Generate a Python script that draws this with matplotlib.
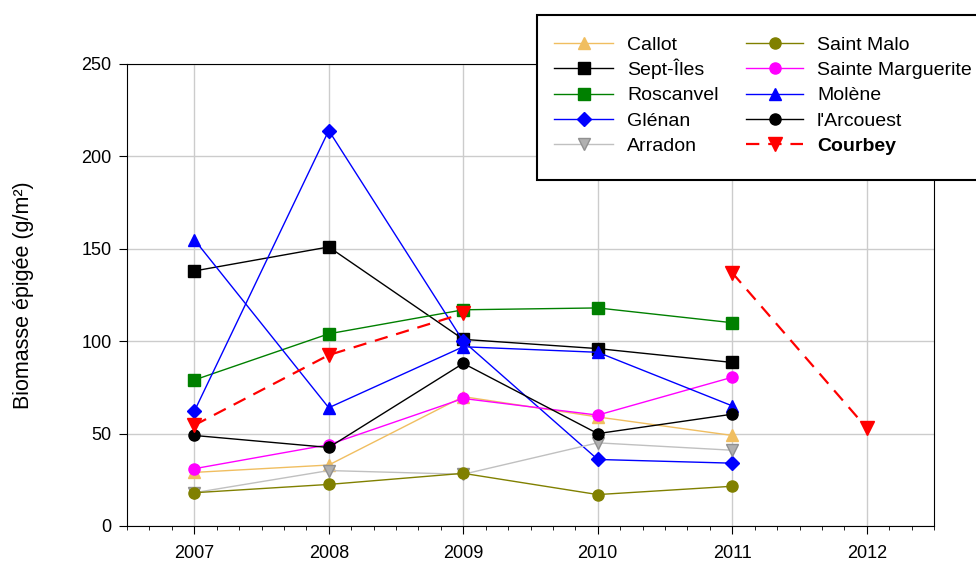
import numpy as np
import matplotlib
matplotlib.use('Agg')
import matplotlib.pyplot as plt
from matplotlib.lines import Line2D
from matplotlib.patches import Rectangle
from matplotlib.ticker import MultipleLocator

plt.rcParams['font.family'] = ['Liberation Sans', 'DejaVu Sans']

years = [2007, 2008, 2009, 2010, 2011, 2012]
nan = np.nan

# biomasse par site (g/m²)
callot = [29, 33, 70, 59, 49, nan]
sept_iles = [138, 151, 101, 96, 88.5, nan]
roscanvel = [79, 104, 117, 118, 110, nan]
glenan = [62, 214, 100, 36, 34, nan]
arradon = [18, 30, 28, 45, 41, nan]
saint_malo = [18, 22.5, 28.5, 17, 21.5, nan]
sainte_marguerite = [31, 44, 69, 60, 80.5, nan]
molene = [155, 64, 97, 94, 65, nan]
arcouest = [49, 42.5, 88, 50, 60.5, nan]
courbey = [54.5, 92.5, 115, nan, 137, 53]

series = [
    ('Callot', callot, dict(color='#F0BE60', marker='^')),
    ('Sept-Îles', sept_iles, dict(color='black', marker='s')),
    ('Roscanvel', roscanvel, dict(color='#008000', marker='s')),
    ('Glénan', glenan, dict(color='#0000FF', marker='D', markersize=7)),
    ('Arradon', arradon, dict(color='#C0C0C0', marker='v', markerfacecolor='#B0B0B0',
                              markeredgecolor='#909090')),
    ('Saint Malo', saint_malo, dict(color='#808000', marker='o')),
    ('Sainte Marguerite', sainte_marguerite, dict(color='#FF00FF', marker='o')),
    ('Molène', molene, dict(color='#0000FF', marker='^')),
    ("l'Arcouest", arcouest, dict(color='black', marker='o')),
    ('Courbey', courbey, dict(color='#FF0000', marker='v', linestyle=(0, (6, 4)),
                              linewidth=1.6, markersize=10)),
]

W, H = 976, 565
fig = plt.figure(figsize=(W / 100, H / 100), dpi=100)
ax = fig.add_axes([127 / W, 1 - 526 / H, 807 / W, 462 / H])

styles = []
for name, vals, style in series:
    kw = dict(linewidth=1.0, markersize=8)
    kw.update(style)
    ax.plot(years, vals, label=name, **kw)
    styles.append((name, kw))

ax.set_xlim(2006.5, 2012.5)
ax.set_ylim(0, 250)
ax.set_xticks(years)
ax.set_yticks([0, 50, 100, 150, 200, 250])
ax.xaxis.set_minor_locator(MultipleLocator(1 / 6))
ax.tick_params(axis='both', which='major', direction='out', length=6, labelsize=13)
ax.tick_params(axis='y', pad=5)
ax.tick_params(axis='x', pad=8)
ax.tick_params(axis='x', which='minor', direction='out', length=3)
ax.grid(True, which='major', color='#CCCCCC', linewidth=1.0)
ax.set_axisbelow(True)

ax.set_ylabel('Biomasse épigée (g/m²)', fontsize=15.5, labelpad=34)

# legende dessinee a la main (coordonnees en pixels de la figure)
def fx(px):
    return px / W

def fy(py):
    return 1 - py / H

fig.add_artist(Rectangle((fx(537), fy(180)), fx(1000) - fx(537), fy(15) - fy(180),
                         transform=fig.transFigure, facecolor='white',
                         edgecolor='black', linewidth=1.5, zorder=10))
rows = [42.7, 68.3, 93.5, 118.7, 144]
cols = [(554, 613, 627), (746, 803, 817)]
for i, (name, kw) in enumerate(styles):
    c, r = divmod(i, 5)
    x0, x1, xt = cols[c]
    yc = rows[r]
    line_kw = {k: v for k, v in kw.items() if k != 'marker'}
    fig.add_artist(Line2D([fx(x0), fx(x1)], [fy(yc), fy(yc)], transform=fig.transFigure,
                          zorder=11, **line_kw))
    mk_kw = dict(kw)
    mk_kw['linestyle'] = 'none'
    fig.add_artist(Line2D([fx((x0 + x1) / 2)], [fy(yc)], transform=fig.transFigure,
                          zorder=12, **mk_kw))
    fig.text(fx(xt), fy(yc + 7), name, fontsize=14, va='baseline', ha='left', zorder=12,
             fontweight='bold' if name == 'Courbey' else 'normal')

fig.savefig('out.png', dpi=100)
